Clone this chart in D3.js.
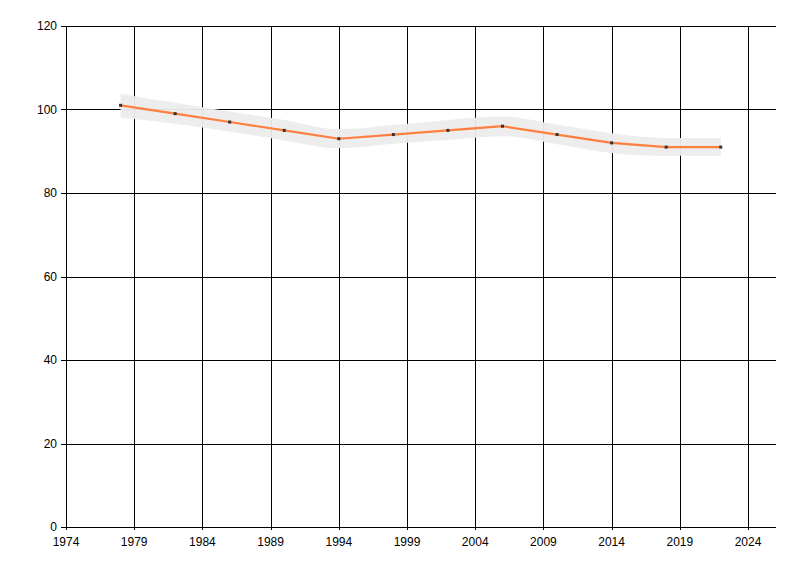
<!DOCTYPE html>
<html><head><meta charset="utf-8">
<script src="https://cdn.jsdelivr.net/npm/d3@7"></script>
<style>body{margin:0;background:#fff}svg{display:block}text{font-family:"Liberation Sans",Arial,sans-serif;font-size:12px;fill:#000}</style>
</head><body><svg id="c" width="800" height="576"></svg>
<script>
const years = [1978,1982,1986,1990,1994,1998,2002,2006,2010,2014,2018,2022];
const values = [101,99,97,95,93,94,95,96,94,92,91,91];
const upper = [103.8,101.6,99.5,97.5,95.3,96.3,97.5,98.3,96.4,94.3,93.2,93.2];
const lower = [98.0,96.6,94.7,92.6,90.7,91.8,92.7,93.6,91.7,89.6,88.9,88.9];
const xTicks = [1974,1979,1984,1989,1994,1999,2004,2009,2014,2019,2024];
const yTicks = [0,20,40,60,80,100,120];

const svg = d3.select("#c");
const L=66,R=776,T=26,B=527;
const x = d3.scaleLinear().domain([1974,2026.05]).range([L,R]);
const y = d3.scaleLinear().domain([0,120]).range([B,T]);

// grid
const g = svg.append("g");
g.selectAll("line.h").data(yTicks).join("line")
 .attr("x1",L-5).attr("x2",R).attr("y1",d=>Math.round(y(d))+0.5).attr("y2",d=>Math.round(y(d))+0.5)
 .attr("stroke","#000");
g.selectAll("line.v").data(xTicks).join("line")
 .attr("x1",d=>Math.round(x(d))+0.5).attr("x2",d=>Math.round(x(d))+0.5)
 .attr("y1",T).attr("y2",B+3).attr("stroke","#000");
g.append("line").attr("x1",L+0.5).attr("x2",L+0.5).attr("y1",T).attr("y2",B+3).attr("stroke","#000");

// labels
g.selectAll("text.y").data(yTicks).join("text")
 .attr("x",L-9).attr("y",d=>y(d)+4).attr("text-anchor","end").text(d=>d);
g.selectAll("text.x").data(xTicks).join("text")
 .attr("x",d=>x(d)).attr("y",B+19).attr("text-anchor","middle").text(d=>d);

// band
const data = years.map((yr,i)=>({yr,v:values[i],u:upper[i],l:lower[i]}));
svg.append("path").datum(data)
 .attr("d",d3.area().x(d=>x(d.yr)).y0(d=>y(d.l)).y1(d=>y(d.u)).curve(d3.curveMonotoneX))
 .attr("fill","#ececec").attr("opacity",0.95);

// line
svg.append("path").datum(data)
 .attr("d",d3.line().x(d=>x(d.yr)).y(d=>y(d.v)))
 .attr("fill","none").attr("stroke","#ff7f3f").attr("stroke-width",2.2);

svg.selectAll("rect.pt").data(data).join("rect")
 .attr("x",d=>x(d.yr)-1.5).attr("y",d=>y(d.v)-1.5).attr("width",3).attr("height",3)
 .attr("fill","#333");
</script></body></html>
